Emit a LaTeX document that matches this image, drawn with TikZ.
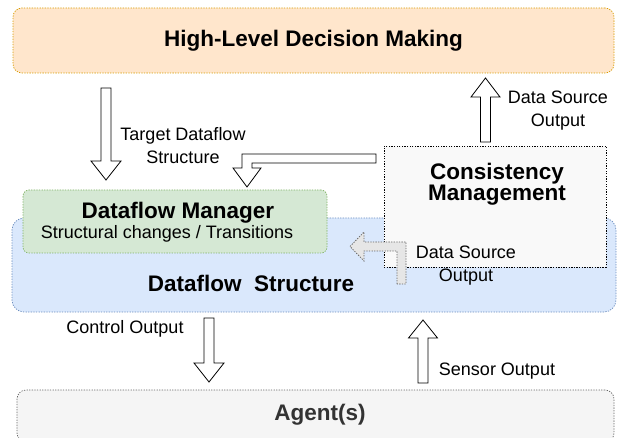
\documentclass[tikz,border=0pt]{standalone}
\usepackage{fontspec}
\setmainfont{Liberation Sans}
\definecolor{hlfill}{HTML}{FFE6CC}
\definecolor{hldraw}{HTML}{D79B00}
\definecolor{dmfill}{HTML}{D5E8D4}
\definecolor{dmdraw}{HTML}{82B366}
\definecolor{dsfill}{HTML}{DAE8FC}
\definecolor{dsdraw}{HTML}{6C8EBF}
\definecolor{agfill}{HTML}{F5F5F5}
\definecolor{agdraw}{HTML}{666666}
\definecolor{agtext}{HTML}{333333}
\definecolor{cmfill}{HTML}{F9F9F9}
\definecolor{grfill}{HTML}{E6E6E6}
\begin{document}
\begin{tikzpicture}[x=1pt,y=-1pt,
  box/.style={draw, rounded corners=9pt, dash pattern=on 1.3pt off 1.3pt, line width=0.7pt, inner sep=0},
  barrow/.style={draw=black, fill=white, line width=0.8pt, line join=miter},
  reg/.style={font=\fontsize{18}{23}\selectfont, align=center, inner sep=0},
  bold/.style={font=\bfseries\fontsize{22.5}{21}\selectfont, align=center, inner sep=0}]
\useasboundingbox (0,0) rectangle (618,438);
\clip (0,0) rectangle (618,438);
% boxes
\node[box, fill=hlfill, draw=hldraw, minimum width=601pt, minimum height=65pt, bold] (hl) at (313.5,40.5) {High-Level Decision Making};
\node[box, fill=dsfill, draw=dsdraw, minimum width=604pt, minimum height=94pt, rounded corners=12pt] (ds) at (314,265) {};
\node[box, fill=dmfill, draw=dmdraw, minimum width=304pt, minimum height=63pt, rounded corners=6pt] (dm) at (175,221.5) {};
\node[box, fill=cmfill, draw=black, rounded corners=0pt, minimum width=222pt, minimum height=121pt] (cm) at (495,206.5) {};
\node[box, fill=agfill, draw=agdraw, minimum width=597pt, minimum height=52pt] (ag) at (315.5,416) {};
% texts
\node[bold] (dmt) at (178,213) {Dataflow Manager};
\node[reg] (dmt2) at (167,234) {Structural changes / Transitions};
\node[bold] (dst) at (251,283) {Dataflow\ \ Structure};
\node[bold] (cmt) at (497,184) {Consistency\\Management};
\node[bold, text=agtext] (agt) at (320,415) {Agent(s)};
\node[reg] (tdt) at (183,146) {Target Dataflow\\Structure};
\node[reg] (dso1) at (558,111) {Data Source\\Output};
\node[reg] (dso2) at (466,266) {Data Source\\Output};
\node[reg] (cot) at (125,329) {Control Output};
\node[reg] (sot) at (497,371) {Sensor Output};
% grey bent arrow (Consistency -> Dataflow Structure)
\draw[fill=grfill, draw=agdraw, line width=0.8pt, dash pattern=on 1.3pt off 1.3pt]
  (397,284) -- (397,251) -- (364,251) -- (364,261) -- (350,246.5) -- (364,232)
  -- (364,242) -- (406,242) -- (406,284) -- cycle;
% target dataflow arrow (down)
\draw[barrow] (101,88) -- (111,88) -- (111,161) -- (121,161) -- (106,180) -- (91,161) -- (101,161) -- cycle;
% data source output arrow (up)
\draw[barrow] (480.5,142) -- (490.5,142) -- (490.5,97) -- (500,97) -- (485.5,78) -- (471,97) -- (480.5,97) -- cycle;
% bent arrow from Consistency to Dataflow Manager
\draw[barrow] (376,154) -- (242,154) -- (242,168) -- (233,168) -- (247,187) -- (261,168) -- (252,168) -- (252,163) -- (376,163) -- cycle;
% control output arrow (down)
\draw[barrow] (204,318) -- (214,318) -- (214,363) -- (224,363) -- (209,382) -- (194,363) -- (204,363) -- cycle;
% sensor output arrow (up)
\draw[barrow] (418,383) -- (428,383) -- (428,338) -- (437.5,338) -- (423,320) -- (408.5,338) -- (418,338) -- cycle;
\end{tikzpicture}
\end{document}
